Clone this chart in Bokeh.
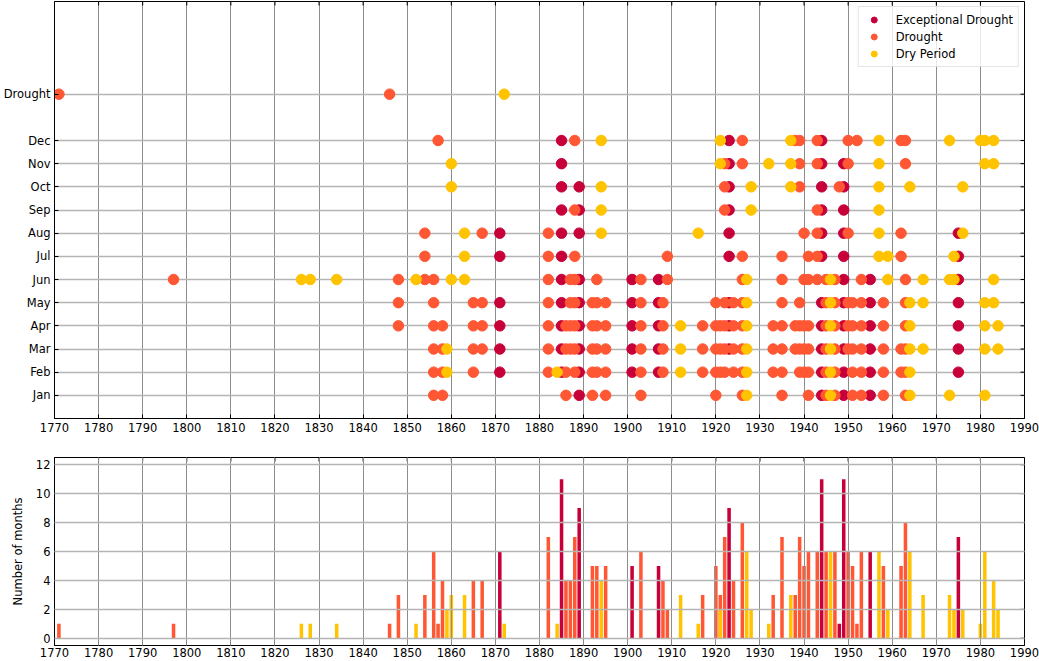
import math
from bokeh.plotting import figure
from bokeh.layouts import column
from bokeh.models import FixedTicker, Range1d
from bokeh.embed import file_html
from bokeh.resources import INLINE

# ---------------- data ----------------
months = ["Jan", "Feb", "Mar", "Apr", "May", "Jun",
          "Jul", "Aug", "Sep", "Oct", "Nov", "Dec"]
row_labels = months + ["Drought"]

# Exceptional Drought: year -> months affected
exc_years = [1871, 1885, 1889, 1901, 1907, 1923, 1944, 1949, 1955, 1975]
exc_months = [
    "Feb Mar Apr May Jul Aug",
    "Feb Mar Apr May Jun Jul Aug Sep Oct Nov Dec",
    "Jan Feb Mar Apr May Jun Aug Sep Oct",
    "Feb Mar Apr May Jun",
    "Feb Mar Apr May Jun",
    "Mar Apr May Jul Aug Sep Oct Nov Dec",
    "Jan Feb Mar Apr May Jul Aug Sep Oct Nov Dec",
    "Jan Feb Mar Apr May Jun Jul Aug Sep Oct Nov",
    "Jan Feb Mar Apr May Jun",
    "Feb Mar Apr May Jun Jul Aug",
]

# Drought
dro_years = [1771, 1797, 1846, 1848, 1854, 1856, 1857, 1858, 1865, 1867,
             1882, 1886, 1887, 1888, 1892, 1893, 1895, 1903, 1908, 1909,
             1917, 1920, 1921, 1922, 1924, 1926, 1933, 1935, 1938, 1939,
             1940, 1941, 1943, 1945, 1947, 1948, 1950, 1951, 1952, 1953,
             1958, 1962, 1963]
dro_months = [
    "Drought", "Jun", "Drought", "Apr May Jun", "Jun Jul Aug",
    "Jan Feb Mar Apr May Jun", "Dec", "Jan Feb Mar Apr", "Feb Mar Apr May",
    "Mar Apr May Aug",
    "Feb Mar Apr May Jun Jul Aug", "Jan Feb Mar Apr", "Mar Apr May Jun",
    "Feb Mar Apr May Jun Jul Sep Dec", "Jan Feb Mar Apr May",
    "Feb Mar Apr May Jun", "Jan Feb Mar Apr May", "Jan Feb Mar Apr May Jun",
    "Feb Mar Apr May", "Jun Jul",
    "Feb Mar Apr", "Jan Feb Mar Apr May", "Feb Mar Apr",
    "Feb Mar Apr May Sep Oct Nov", "Feb Mar Apr May",
    "Jan Feb Mar Apr May Jun Jul Nov Dec", "Feb Mar Apr",
    "Jan Feb Mar Apr May Jun Jul", "Mar Apr Dec",
    "Feb Mar Apr May Oct Nov Dec",
    "Feb Mar Apr Jun Aug", "Jan Feb Mar Apr Jun Jul",
    "Jun Jul Aug Sep Nov Dec", "Jan Feb Mar Apr May Jun",
    "Jan Feb Mar Apr May Jun", "Oct", "Mar Apr May Aug Nov Dec",
    "Jan Feb Mar Apr May", "Dec", "Jan Feb Mar Apr May Jun",
    "Jan Feb Mar Apr May", "Feb Mar Jul Aug Dec",
    "Jan Feb Mar Apr May Jun Nov Dec",
]

# Dry Period
dry_years = [1826, 1828, 1834, 1852, 1859, 1860, 1863, 1872, 1884, 1894,
             1912, 1916, 1921, 1927, 1928, 1932, 1937, 1946, 1957, 1959,
             1964, 1967, 1973, 1974, 1976, 1980, 1981, 1983, 1984]
dry_months = [
    "Jun", "Jun", "Jun", "Jun", "Feb Mar", "Jun Oct Nov", "Jun Jul Aug",
    "Drought", "Feb", "Aug Sep Oct Dec",
    "Feb Mar Apr", "Aug", "Nov Dec", "Jan Feb Mar Apr May Jun", "Sep Oct",
    "Nov", "Oct Nov Dec", "Jan Feb Mar Apr May Jun",
    "Jul Aug Sep Oct Nov Dec", "Jun Jul",
    "Jan Feb Mar Apr May Oct", "Mar May Jun", "Jan Jun Dec", "Jun Jul",
    "Aug Oct", "Dec", "Jan Mar Apr May Nov Dec", "May Jun Nov Dec",
    "Mar Apr",
]

# Number of months per year (lower panel)
exc_bar_years = [1871, 1885, 1889, 1901, 1907, 1923, 1944, 1948, 1949, 1955, 1975]
exc_bar_counts = [6, 11, 9, 5, 5, 9, 11, 1, 11, 6, 7]

dro_bar_years = [1771, 1797, 1846, 1848, 1854, 1856, 1857, 1858, 1865, 1867,
                 1882, 1886, 1887, 1888, 1892, 1893, 1895, 1903, 1908, 1909,
                 1917, 1920, 1921, 1922, 1924, 1926, 1933, 1935, 1938, 1939,
                 1940, 1941, 1943, 1945, 1947, 1950, 1951, 1952, 1953, 1958,
                 1962, 1963]
dro_bar_counts = [1, 1, 1, 3, 3, 6, 1, 4, 4, 4,
                  7, 4, 4, 7, 5, 5, 5, 6, 4, 2,
                  3, 5, 3, 7, 4, 8, 3, 7, 3, 7,
                  5, 6, 6, 6, 6, 6, 5, 1, 6, 5,
                  5, 8]

dry_bar_years = [1826, 1828, 1834, 1852, 1859, 1860, 1863, 1872, 1884, 1894,
                 1912, 1916, 1921, 1927, 1928, 1932, 1937, 1946, 1957, 1959,
                 1964, 1967, 1973, 1974, 1976, 1980, 1981, 1983, 1984]
dry_bar_counts = [1, 1, 1, 1, 2, 3, 3, 1, 1, 4,
                  3, 1, 2, 6, 2, 1, 3, 6, 6, 2,
                  6, 3, 3, 2, 2, 1, 6, 4, 2]

decades = list(range(1770, 1991, 10))
count_ticks = list(range(0, 13, 2))

# ---------------- styling ----------------
FONT = "DejaVu Sans"
FS = "11.5px"
C_EXC = "#C70039"
C_DRO = "#FF5733"
C_DRY = "#FFC300"
X0, X1 = 1770, 1990

row_pos = {m: i + 1 for i, m in enumerate(months)}
row_pos["Drought"] = 14


def expand(years, mstrings):
    xs, ys = [], []
    for yr, ms in zip(years, mstrings):
        for m in ms.split():
            xs.append(yr)
            ys.append(row_pos[m])
    return xs, ys


def style_axis(ax, standoff=4):
    ax.axis_line_color = "black"
    ax.axis_line_width = 1
    ax.major_tick_in = 4
    ax.major_tick_out = 0
    ax.major_tick_line_color = "black"
    ax.minor_tick_line_color = None
    ax.major_label_text_font = FONT
    ax.major_label_text_font_size = FS
    ax.major_label_text_color = "black"
    ax.major_label_standoff = standoff


def inner_ticks(p, xticks, ytop, yticks, xright):
    # inward tick marks on the top and right spines (clipped to the frame)
    p.scatter(xticks, [ytop] * len(xticks), marker="dash", angle=math.pi / 2,
              size=8, line_color="black", line_width=1)
    p.scatter([xright] * len(yticks), yticks, marker="dash", size=8,
              line_color="black", line_width=1)


W = 1039

# ---------------- top panel ----------------
Y0, Y1 = 0, 18
p1 = figure(width=W, height=440, x_range=Range1d(X0, X1),
            y_range=Range1d(Y0, Y1), output_backend="svg",
            toolbar_location=None, min_border_left=51, min_border_right=15,
            min_border_top=1, min_border_bottom=22)
p1.outline_line_color = "black"
p1.outline_line_alpha = 1

xt = FixedTicker(ticks=decades)
ypos = [row_pos[m] for m in row_labels]
yt = FixedTicker(ticks=ypos)
p1.xaxis.ticker = xt
p1.yaxis.ticker = yt
p1.yaxis.major_label_overrides = {row_pos[m]: m for m in row_labels}
style_axis(p1.xaxis[0])
style_axis(p1.yaxis[0])

p1.xgrid.ticker = xt
p1.ygrid.ticker = yt
p1.xgrid.grid_line_color = "#8c8c8c"
p1.xgrid.grid_line_width = 1
p1.ygrid.grid_line_color = "#b4b4b4"
p1.ygrid.grid_line_width = 1.6

inner_ticks(p1, decades, Y1, ypos, X1)

for yrs, mss, col, lab in [(exc_years, exc_months, C_EXC, "Exceptional Drought"),
                           (dro_years, dro_months, C_DRO, "Drought"),
                           (dry_years, dry_months, C_DRY, "Dry Period")]:
    xs, ys = expand(yrs, mss)
    p1.scatter(xs, ys, size=10.5, marker="circle", fill_color=col,
               line_color=col, legend_label=lab)

lg = p1.legend[0]
lg.location = "top_right"
lg.margin = 5
lg.padding = 5
lg.spacing = 2
lg.glyph_height = 15
lg.label_height = 15
lg.glyph_width = 20
lg.label_standoff = 12
lg.label_text_font = FONT
lg.label_text_font_size = FS
lg.label_text_color = "black"
lg.border_line_color = "#cccccc"
lg.background_fill_alpha = 0.8

# ---------------- bottom panel ----------------
B0, B1 = -0.5, 12.5
p2 = figure(width=W, height=221, x_range=Range1d(X0, X1),
            y_range=Range1d(B0, B1), output_backend="svg",
            toolbar_location=None, min_border_left=51, min_border_right=15,
            min_border_top=17, min_border_bottom=16)
p2.outline_line_color = "black"
p2.outline_line_alpha = 1

yt2 = FixedTicker(ticks=count_ticks)
p2.xaxis.ticker = xt
p2.yaxis.ticker = yt2
style_axis(p2.xaxis[0], standoff=2)
style_axis(p2.yaxis[0])
p2.yaxis.axis_label = "Number of months"
p2.yaxis.axis_label_text_font = FONT
p2.yaxis.axis_label_text_font_size = FS
p2.yaxis.axis_label_text_font_style = "normal"
p2.yaxis.axis_label_text_color = "black"
p2.yaxis.axis_label_standoff = 8

p2.xgrid.ticker = xt
p2.ygrid.ticker = yt2
p2.xgrid.grid_line_color = "#8c8c8c"
p2.ygrid.grid_line_color = "#b4b4b4"
p2.ygrid.grid_line_width = 1.6
p2.xgrid.level = "overlay"
p2.ygrid.level = "overlay"

p2.vbar(x=exc_bar_years, top=exc_bar_counts, width=0.8, fill_color=C_EXC, line_color=None)
p2.vbar(x=dro_bar_years, top=dro_bar_counts, width=0.8, fill_color=C_DRO, line_color=None)
p2.vbar(x=dry_bar_years, top=dry_bar_counts, width=0.8, fill_color=C_DRY, line_color=None)

inner_ticks(p2, decades, B1, count_ticks, X1)

layout = column(p1, p2)
open("out.html", "w").write(file_html(layout, INLINE))
